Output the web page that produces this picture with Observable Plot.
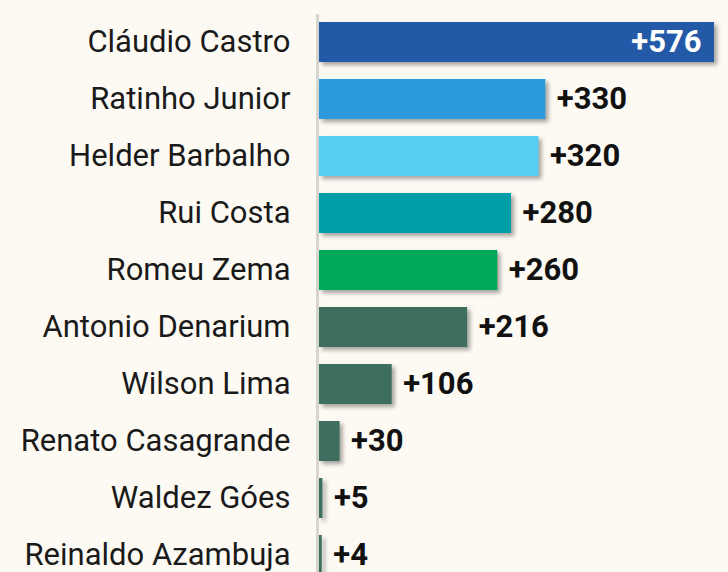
<!DOCTYPE html>
<html>
<head>
<meta charset="utf-8">
<script src="https://cdn.jsdelivr.net/npm/d3@7"></script>
<script src="https://cdn.jsdelivr.net/npm/@observablehq/plot@0.6"></script>
<style>
  html, body { margin: 0; padding: 0; background: #fdfaf4; }
  #chart svg { display: block; }
</style>
</head>
<body>
<div id="chart"></div>
<script>
const names = ["Cláudio Castro","Ratinho Junior","Helder Barbalho","Rui Costa","Romeu Zema","Antonio Denarium","Wilson Lima","Renato Casagrande","Waldez Góes","Reinaldo Azambuja"];
const values = [576, 330, 320, 280, 260, 216, 106, 30, 5, 4];
const colors = ["#2359a6","#2d9bdb","#56cdf2","#009ea8","#00a85a","#3e6e5e","#3e6e5e","#3e6e5e","#3e6e5e","#3e6e5e"];

const data = names.map((n, i) => ({name: n, value: values[i], color: colors[i], label: "+" + values[i]}));
const inside = data.filter(d => d.value > 500);
const outside = data.filter(d => d.value <= 500);

const plot = Plot.plot({
  width: 728,
  height: 572,
  marginLeft: 319,
  marginRight: 0,
  marginTop: 14,
  marginBottom: 0,
  style: {background: "#fdfaf4", fontFamily: "Roboto, sans-serif"},
  x: {domain: [0, 576], range: [319, 714], axis: null},
  y: {domain: names, range: [5, 592], padding: 0.298, axis: null},
  marks: [
    Plot.ruleX([0], {stroke: "#d8d5cf", strokeWidth: 3, dx: -2}),
    Plot.barX(data, {x: "value", y: "name", fill: "color"}),
    Plot.text(data, {x: 0, y: "name", text: "name", textAnchor: "end", dx: -29, fontSize: 31, fill: "#1a1a1a"}),
    Plot.text(outside, {x: "value", y: "name", text: "label", textAnchor: "start", dx: 11, fontSize: 31, fontWeight: "bold", fill: "#111"}),
    Plot.text(inside, {x: "value", y: "name", text: "label", textAnchor: "end", dx: -13, fontSize: 31, fontWeight: "bold", fill: "#fff"})
  ]
});
d3.select(plot).selectAll('g[aria-label="bar"]').style("filter", "drop-shadow(3px 3px 2px rgba(0,0,0,0.35))");
document.getElementById("chart").appendChild(plot);
</script>
</body>
</html>
